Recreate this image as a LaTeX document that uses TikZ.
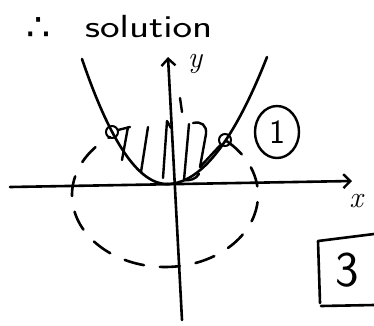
\documentclass[tikz,border=0pt]{standalone}
\usepackage{fontspec}
\newfontfamily\symfont{DejaVu Sans}
\usetikzlibrary{arrows.meta,shapes.geometric}
\begin{document}
\begin{tikzpicture}[x=1pt,y=-1pt,
  ink/.style={line width=2.6pt,line cap=round,line join=round},
  axis/.style={ink,-{Straight Barb[length=7pt,width=14pt,line width=2.4pt]}},
  dashedcurve/.style={ink,dash pattern=on 20pt off 16pt},
  hatch/.style={ink,line width=2.4pt},
  mark circle/.style={draw,circle,line width=2pt,minimum size=12pt,inner sep=0pt}]
\useasboundingbox (0,0) rectangle (374,325);
% title
\node[font=\symfont\fontsize{38}{38}\selectfont,anchor=base,inner sep=0pt] (there) at (39,40) {∴};
\node[font=\sffamily\fontsize{32}{32}\selectfont,anchor=base west,inner sep=0pt] (sol) at (85,37) {\scalebox{1.3}[1]{solution}};
% axes
\coordinate (xs) at (10,187);
\coordinate (xe) at (352,181);
\coordinate (ys) at (182,320);
\coordinate (ye) at (168,57);
\draw[axis] (xs) -- (xe);
\draw[axis] (ys) -- (ye);
\node[font=\itshape\fontsize{30}{30}\selectfont,anchor=base,inner sep=0pt] (ylab) at (195,67) {y};
\node[font=\itshape\fontsize{30}{30}\selectfont,anchor=base,inner sep=0pt] (xlab) at (356,207) {x};
% dashed ellipse (outside part)
\draw[dashedcurve] plot[domain=-48.4:233.8,samples=120,smooth] ({165+93*cos(\x)},{195+72*sin(\x)});
% parabola
\draw[ink] plot[domain=82:167,samples=60,smooth] (\x,{184-0.0173*(\x-167)^2});
\draw[ink] plot[domain=167:267,samples=60,smooth] (\x,{184-0.0127*(\x-167)^2});
% intersection markers
\node[mark circle] (p1) at (112,132) {};
\node[mark circle] (p2) at (225,140) {};
% hatching
\draw[hatch] (118,130) -- (130,127) (128,127) -- (122,160);
\draw[hatch] (148,127) -- (141,172);
\draw[hatch] (163,178) -- (167,121) -- (171,128);
\draw[hatch] (180,98) -- (182,112);
\draw[hatch] (189,124) -- (184,180) .. controls (190,181) and (196,179) .. (199,174);
\draw[hatch] (193,123) .. controls (201,121) and (207,125) .. (206,134) -- (200,167) -- (p2);
% circled 1
\node[draw,ellipse,line width=2.4pt,minimum width=44pt,minimum height=52pt,inner sep=0pt,font=\sffamily\fontsize{34}{34}\selectfont] (one) at (277,132) {1};
% boxed 3
\coordinate (b1) at (374,234);
\coordinate (b2) at (318,241);
\coordinate (b3) at (320,303);
\coordinate (b4) at (374,305);
\draw[ink] (b1) -- (b2) -- (b3);
\draw[ink] (321,306) -- (b4);
\node[font=\sffamily\fontsize{50}{50}\selectfont] (three) at (347,270) {3};
\end{tikzpicture}
\end{document}
